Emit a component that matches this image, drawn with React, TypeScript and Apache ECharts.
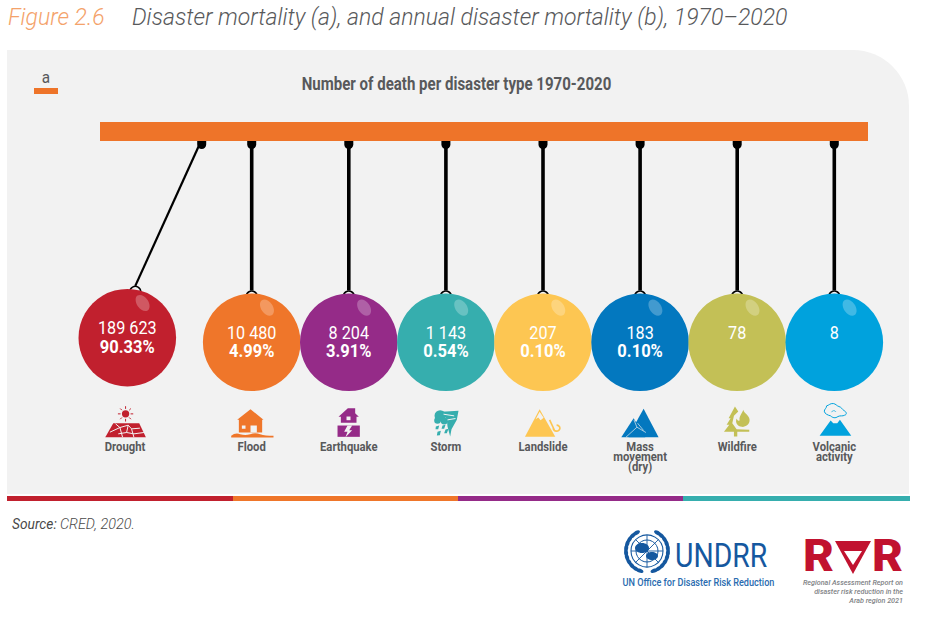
import React, { useEffect, useRef } from "react";
import * as echarts from "echarts";

// ---------- data ----------
const categories = ["Drought", "Flood", "Earthquake", "Storm", "Landslide", "Mass\nmovement\n(dry)", "Wildfire", "Volcanic\nactivity"];
const deaths = [189623, 10480, 8204, 1143, 207, 183, 78, 8];
const deathLabels = ["189 623", "10 480", "8 204", "1 143", "207", "183", "78", "8"];
const shareLabels = ["90.33%", "4.99%", "3.91%", "0.54%", "0.10%", "0.10%", "", ""];
const colors = ["#c1202e", "#ef762a", "#952b88", "#36aeae", "#fdc652", "#0378bf", "#c3c056", "#00a2dd"];
const stripeColors = ["#c1202e", "#ef762a", "#952b88", "#36aeae"];

const figureLabel = "Figure 2.6";
const figureTitle = "Disaster mortality (a), and annual disaster mortality (b), 1970\u20132020";
const chartTitle = "Number of death per disaster type 1970-2020";

// ---------- layout ----------
const PANEL = "#f2f2f2";
const GREY = "#58595b";
const BAND = 97.1;
const GRID_LEFT = 106.05;
const BAR_TOP = 122;
const BAR_BOTTOM = 141;
const BALL_Y = 342.3;
const R = 48.8;
const SANS = "Roboto, 'Noto Sans', sans-serif";

type Part = { d: string; kind: "fill" | "cut" | "line" | "cutline" | "cloud"; w?: number };
const circ = (x: number, y: number, r: number) => `M${x - r} ${y}A${r} ${r} 0 1 0 ${x + r} ${y}A${r} ${r} 0 1 0 ${x - r} ${y}Z`;

// Icon outlines, drawn at 3x and placed by the ball centre
const icons: { c: number; parts: Part[] }[] = [
  { c: 202, parts: [
    { d: circ(197, 402, 11), kind: "fill" },
    { d: "M197 379V387M197 417V425M174 402H182M212 402H220M181 386L186 391M208 413L213 418M213 386L208 391M186 413L181 418", kind: "line", w: 3 },
    { d: "M160 430H238L258 472H136Z", kind: "fill" },
    { d: "M167 432L180 443L205 436L215 447L240 445M150 457L180 443L188 472M205 436L200 458L175 462M215 447L222 472M200 458L222 462L252 458", kind: "cutline", w: 3 },
  ]},
  { c: 574, parts: [
    { d: "M571 388L610 420H606V458H536V420H531Z", kind: "fill" },
    { d: "M545 437H556V447H545ZM571 437H590V458H571Z", kind: "cut" },
    { d: "M513 468Q525 458 540 463T570 463T600 463T640 468V473H513Z", kind: "fill" },
  ]},
  { c: 864, parts: [
    { d: "M834 411L862 385H884V400L895 411H888V429H841V411Z", kind: "fill" },
    { d: "M858 410H870V421H858Z", kind: "cut" },
    { d: "M831 437H898V471H831Z", kind: "fill" },
    { d: "M861 437H875L866 451H875L855 472L861 456H851Z", kind: "cut" },
  ]},
  { c: 1154, parts: [
    { d: circ(1138, 408, 17) + circ(1130, 422, 10) + circ(1150, 424, 10), kind: "fill" },
    { d: "M1143 396L1193 393L1188 420L1172 448L1168 470L1160 440L1158 420Z", kind: "fill" },
    { d: "M1148 403L1180 408M1160 420L1184 416", kind: "cutline", w: 3 },
    { d: "M1125 440L1135 437L1132 448L1124 448ZM1145 437L1154 435L1150 447L1142 447ZM1130 456L1140 453L1137 466L1128 467ZM1154 449L1163 447L1158 460L1150 460Z", kind: "fill" },
  ]},
  { c: 185, parts: [
    { d: "M175 388L222 471H131Z", kind: "fill" },
    { d: "M175 396L163 418L171 413L178 421L187 414Z", kind: "cut" },
    { d: "M205 420L220 452M216 444A10 9 0 1 0 226 436", kind: "line", w: 5 },
  ]},
  { c: 479, parts: [
    { d: "M490 387L535 472H445L465 432Z", kind: "fill" },
    { d: "M460 415L495 472H423Z", kind: "fill" },
    { d: "M437 472L470 442L461 420M470 442L497 458M472 430L490 452", kind: "cutline", w: 2 },
  ]},
  { c: 771, parts: [
    { d: "M765 380L775 395L762 408L757 430L770 448L808 450V456H772V470H762V456H732L748 435H740L752 415H746Z", kind: "fill" },
    { d: "M790 390C792 402 808 405 809 420C810 434 796 442 786 441C772 440 765 428 770 416C773 423 776 424 779 421C777 410 786 402 790 390Z", kind: "fill" },
  ]},
  { c: 1062, parts: [
    { d: "M1052 422L1060 430H1072L1080 420L1114 468H1019Z", kind: "fill" },
    { d: "M1040 378C1048 376 1050 370 1060 371C1068 372 1070 378 1077 380C1085 382 1086 388 1092 392C1100 396 1102 404 1094 406C1088 410 1082 406 1074 410C1066 416 1058 414 1052 408C1044 406 1034 402 1033 394C1033 388 1040 385 1040 378Z", kind: "cloud", w: 3 },
    { d: "M1055 397C1056 391 1066 391 1068 396", kind: "line", w: 2 },
  ]},
];

icons.forEach((icon, i) =>
  icon.parts.forEach((p, j) => {
    echarts.graphic.registerShape(`icon${i}_${j}`, echarts.graphic.extendPath(p.d, {}));
  })
);

const txt = (text: string, x: number, y: number, o: any = {}) => ({
  type: "text",
  x,
  y,
  scaleX: o.sx ?? 1,
  silent: true,
  style: {
    text,
    fill: o.fill ?? GREY,
    fontSize: o.size ?? 12,
    fontWeight: o.weight ?? 400,
    fontStyle: o.italic ? "italic" : "normal",
    fontFamily: SANS,
    align: o.align ?? "left",
    verticalAlign: "middle",
    lineHeight: o.lh,
  },
});

function renderBall(_params: any, api: any) {
  const i = api.value(0) as number;
  const base = api.coord([i, 0])[0];
  const swung = i === 0;
  const cx = swung ? base - 27.3 : base;
  const cy = swung ? BALL_Y - 4.6 : BALL_Y;
  const anchor = swung ? base + 47.1 : base;
  const color = colors[i];
  const ringY = cy - R + 2;

  const children: any[] = [
    {
      type: "line",
      shape: { x1: anchor - (swung ? 2 : 0), y1: BAR_BOTTOM + 3, x2: swung ? cx + 8 : cx, y2: ringY - 5 },
      style: { stroke: "#000", lineWidth: swung ? 2.2 : 3.6 },
    },
    {
      type: "rect",
      shape: { x: anchor - 4.5, y: BAR_BOTTOM, width: 9, height: 8, r: [0, 0, 4.5, 4.5] },
      style: { fill: "#000" },
    },
    { type: "circle", shape: { cx: swung ? cx + 8 : cx, cy: ringY + 1, r: 5.5 }, style: { fill: "none", stroke: "#000", lineWidth: 1.5 } },
    { type: "circle", shape: { cx, cy, r: R }, style: { fill: color } },
    { type: "ellipse", x: cx + 15.3, y: cy - 34.7, rotation: 0.6, shape: { cx: 0, cy: 0, rx: 5.8, ry: 9 }, style: { fill: "rgba(255,255,255,0.25)" } },
    txt(deathLabels[i], cx, cy - 9.6, { fill: "#fff", size: 18, weight: 400, sx: 0.9, align: "center" }),
    txt(shareLabels[i], cx, cy + 8.7, { fill: "#fff", size: 18, weight: 700, sx: 0.92, align: "center" }),
  ];

  const icon = icons[i];
  icon.parts.forEach((p, j) => {
    const style: any =
      p.kind === "fill"
        ? { fill: color }
        : p.kind === "cut"
        ? { fill: PANEL }
        : p.kind === "line"
        ? { fill: "none", stroke: color, lineWidth: p.w }
        : p.kind === "cloud"
        ? { fill: PANEL, stroke: color, lineWidth: p.w }
        : { fill: "none", stroke: PANEL, lineWidth: p.w };
    children.push({
      type: `icon${i}_${j}`,
      x: cx - icon.c / 3,
      y: 280,
      scaleX: 1 / 3,
      scaleY: 1 / 3,
      style,
    });
  });

  const lines = categories[i].split("\n");
  lines.forEach((line, k) => {
    children.push(txt(line, swung ? cx - 2.3 : cx, 446.7 + k * 10.3, { size: 12, weight: 700, sx: 0.94, align: "center" }));
  });

  return { type: "group", children };
}

function buildGraphic() {
  const unBlue = "#15589f";
  const stripes = [7, 233, 458, 683, 910];
  const leaves: any[] = [];
  for (let s = -1; s <= 1; s += 2) {
    for (let a = 0; a < 11; a++) {
      const th = ((-70 + a * 13) * Math.PI) / 180;
      leaves.push({
        type: "ellipse",
        x: 647 + s * 21 * Math.cos(th),
        y: 551 - 21 * Math.sin(th),
        rotation: s * th,
        shape: { cx: 0, cy: 0, rx: 2, ry: 3.8 },
        style: { fill: unBlue },
      });
    }
  }
  const spokes: any[] = [];
  for (let a = 0; a < 8; a++) {
    const th = (a * Math.PI) / 4;
    spokes.push({
      type: "line",
      shape: { x1: 647, y1: 551, x2: 647 + 16 * Math.cos(th), y2: 551 + 16 * Math.sin(th) },
      style: { stroke: unBlue, lineWidth: 0.9 },
    });
  }
  return [
    { type: "rect", z: 0, shape: { x: 7, y: 50, width: 902, height: 444, r: [0, 56, 0, 0] }, style: { fill: PANEL } },
    ...stripeColors.map((c, i) => ({
      type: "rect",
      shape: { x: stripes[i], y: 496, width: stripes[i + 1] - stripes[i], height: 5 },
      style: { fill: c },
    })),
    { type: "rect", shape: { x: 100, y: BAR_TOP, width: 768, height: BAR_BOTTOM - BAR_TOP }, style: { fill: "#ee7429" } },
    { type: "rect", shape: { x: 34, y: 88, width: 24, height: 6 }, style: { fill: "#ee7429" } },
    txt("a", 46, 77, { size: 17, sx: 0.9, align: "center" }),
    txt(chartTitle, 456.5, 84, { size: 17.5, weight: 700, sx: 0.86, align: "center" }),
    txt(figureLabel, 8, 17, { size: 23, weight: 300, italic: true, fill: "#f4a26a" }),
    txt(figureTitle, 132, 17, { size: 23, weight: 300, italic: true }),
    txt("Source:", 12, 524, { size: 15, italic: true, sx: 0.92, fill: "#4a4a4a" }),
    txt("CRED, 2020.", 60, 524, { size: 15, weight: 300, italic: true, sx: 0.96, fill: "#4a4a4a" }),

    // UNDRR logo
    ...leaves,
    ...spokes,
    { type: "circle", shape: { cx: 647, cy: 551, r: 16 }, style: { fill: "none", stroke: unBlue, lineWidth: 1.1 } },
    { type: "circle", shape: { cx: 647, cy: 551, r: 11 }, style: { fill: "none", stroke: unBlue, lineWidth: 1 } },
    { type: "ellipse", shape: { cx: 642, cy: 548, rx: 7, ry: 5 }, style: { fill: unBlue } },
    { type: "ellipse", shape: { cx: 652, cy: 556, rx: 6, ry: 4 }, style: { fill: unBlue } },
    txt("UNDRR", 675, 556, { size: 33, weight: 400, sx: 0.86, fill: unBlue }),
    txt("UN Office for Disaster Risk Reduction", 622.5, 582, { size: 11, weight: 500, sx: 0.83, fill: "#2a6cb0" }),

    // RAR logo
    txt("R", 803, 556, { size: 44, weight: 900, sx: 1.08, fill: "#c1122f" }),
    { type: "polygon", shape: { points: [[835, 541], [871, 541], [853, 574]] }, style: { fill: "#c1122f" } },
    { type: "polygon", shape: { points: [[844, 551], [862, 551], [853, 565]] }, style: { fill: "#fff" } },
    txt("R", 872, 556, { size: 44, weight: 900, sx: 1.08, fill: "#c1122f" }),
    txt("Regional Assessment Report on", 903, 582.5, { size: 7.2, weight: 500, italic: true, align: "right", fill: "#808285" }),
    txt("disaster risk reduction in the", 903, 591, { size: 7.2, weight: 500, italic: true, align: "right", fill: "#808285" }),
    txt("Arab region 2021", 903, 600, { size: 7.2, weight: 500, italic: true, align: "right", fill: "#808285" }),
  ];
}

export default function App() {
  const ref = useRef<HTMLDivElement>(null);
  useEffect(() => {
    const chart = echarts.init(ref.current!, undefined, { renderer: "svg" });
    chart.setOption({
      animation: false,
      backgroundColor: "#fff",
      grid: { left: GRID_LEFT, width: BAND * categories.length, top: 100, bottom: 100 },
      xAxis: { type: "category", show: false, data: categories.map((c) => c.replace(/\n/g, " ")) },
      yAxis: { type: "value", show: false, min: 0, max: 1 },
      graphic: { elements: buildGraphic() },
      series: [
        {
          type: "custom",
          coordinateSystem: "cartesian2d",
          renderItem: renderBall,
          silent: true,
          clip: false,
          encode: { x: 0 },
          data: deaths.map((d, i) => [i, d]),
        },
      ],
    });
    return () => chart.dispose();
  }, []);
  return <div ref={ref} style={{ position: "absolute", left: 0, top: 0, width: 928, height: 618 }} />;
}
